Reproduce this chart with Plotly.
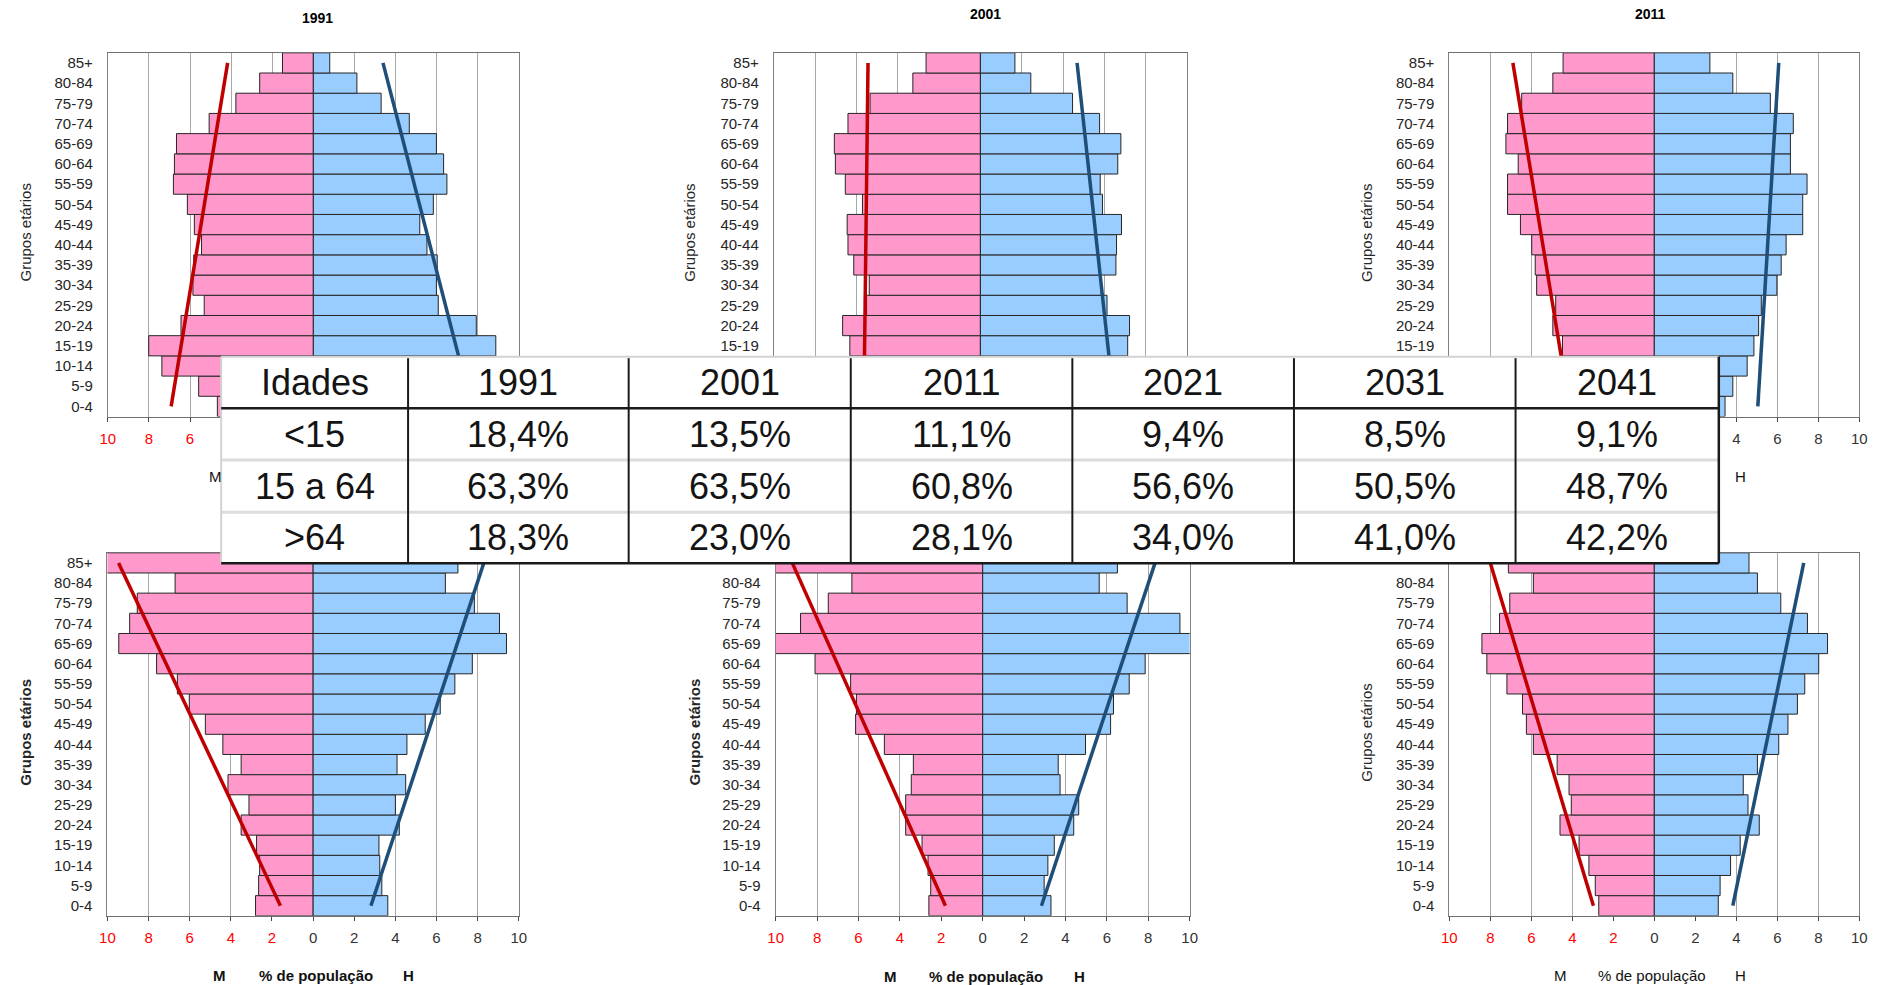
import plotly.graph_objects as go

PAGE_W, PAGE_H = 1879, 985
FONT = "Liberation Sans, Arial, sans-serif"


def fx(x):
    return x / PAGE_W


def fy(y):
    return 1 - y / PAGE_H


# ---------------- data ----------------
ages = ["0-4", "5-9", "10-14", "15-19", "20-24", "25-29", "30-34", "35-39", "40-44",
        "45-49", "50-54", "55-59", "60-64", "65-69", "70-74", "75-79", "80-84", "85+"]

pyramid_years = ["1991", "2001", "2011", "2021", "2031", "2041"]

# % of population, women (M) and men (H), ordered 0-4 ... 85+
women_1991 = [4.67, 5.58, 7.37, 8.01, 6.44, 5.31, 5.86, 5.82, 5.44, 5.79, 6.13, 6.81, 6.76, 6.66, 5.07, 3.77, 2.61, 1.50]
men_1991 = [5.2, 6.0, 7.6, 8.88, 7.93, 6.08, 5.99, 6.03, 5.53, 5.18, 5.84, 6.50, 6.34, 5.99, 4.67, 3.30, 2.12, 0.80]

women_2001 = [4.9, 5.0, 5.6, 6.32, 6.67, 5.51, 5.38, 6.13, 6.41, 6.45, 5.71, 6.54, 7.02, 7.07, 6.41, 5.34, 3.27, 2.63]
men_2001 = [5.2, 5.3, 6.0, 7.13, 7.22, 6.13, 5.85, 6.56, 6.59, 6.83, 5.91, 5.80, 6.65, 6.80, 5.77, 4.46, 2.44, 1.67]

women_2011 = [3.3, 3.6, 4.3, 4.48, 4.95, 4.81, 5.74, 5.81, 5.98, 6.53, 7.16, 7.16, 6.64, 7.24, 7.16, 6.47, 4.95, 4.45]
men_2011 = [3.45, 3.83, 4.53, 4.86, 5.09, 5.22, 5.98, 6.19, 6.43, 7.24, 7.24, 7.45, 6.64, 6.64, 6.78, 5.66, 3.83, 2.71]

women_2021 = [2.80, 2.65, 2.60, 2.75, 3.50, 3.12, 4.14, 3.50, 4.39, 5.24, 6.02, 6.60, 7.61, 9.45, 8.92, 8.55, 6.71, 10.2]
men_2021 = [3.63, 3.34, 3.24, 3.20, 4.19, 4.00, 4.50, 4.08, 4.56, 5.45, 6.18, 6.89, 7.74, 9.40, 9.06, 7.84, 6.43, 7.04]

women_2031 = [2.60, 2.51, 2.64, 2.93, 3.72, 3.72, 3.45, 3.35, 4.75, 6.14, 6.10, 6.38, 8.10, 10.4, 8.80, 7.46, 6.32, 10.1]
men_2031 = [3.30, 2.97, 3.15, 3.46, 4.40, 4.64, 3.74, 3.65, 4.97, 6.18, 6.32, 7.08, 7.85, 10.3, 9.53, 6.98, 5.63, 6.51]

women_2041 = [2.71, 2.88, 3.19, 3.67, 4.60, 4.05, 4.16, 4.74, 5.90, 6.24, 6.43, 7.19, 8.17, 8.41, 7.55, 7.05, 5.90, 7.12]
men_2041 = [3.12, 3.21, 3.72, 4.19, 5.12, 4.57, 4.34, 5.03, 6.07, 6.52, 6.98, 7.34, 8.02, 8.45, 7.47, 6.17, 5.03, 4.62]

# trend lines: value at "0-4" and at "85+"
trend_women_1991, trend_men_1991 = [6.92, 4.17], [7.7, 3.39]
trend_women_2001, trend_men_2001 = [5.64, 5.44], [6.49, 4.68]
trend_women_2011, trend_men_2011 = [4.14, 6.90], [5.05, 6.07]
trend_women_2021, trend_men_2021 = [1.59, 9.46], [2.81, 8.30]
trend_women_2031, trend_men_2031 = [1.80, 9.20], [2.84, 8.33]
trend_women_2041, trend_men_2041 = [2.97, 8.00], [3.83, 7.29]

x_tick_values = [-10, -8, -6, -4, -2, 0, 2, 4, 6, 8, 10]

table_years = ["1991", "2001", "2011", "2021", "2031", "2041"]
table_groups = ["<15", "15 a 64", ">64"]
share_under_15 = [18.4, 13.5, 11.1, 9.4, 8.5, 9.1]
share_15_64 = [63.3, 63.5, 60.8, 56.6, 50.5, 48.7]
share_over_64 = [18.3, 23.0, 28.1, 34.0, 41.0, 42.2]

women = [women_1991, women_2001, women_2011, women_2021, women_2031, women_2041]
men = [men_1991, men_2001, men_2011, men_2021, men_2031, men_2041]
trend_w = [trend_women_1991, trend_women_2001, trend_women_2011, trend_women_2021, trend_women_2031, trend_women_2041]
trend_m = [trend_men_1991, trend_men_2001, trend_men_2011, trend_men_2021, trend_men_2031, trend_men_2041]

# ---------------- layout geometry (page pixels) ----------------
boxes = [(100.7, 515.2, 52.8, 416.5), (772.4, 1189.1, 52.8, 416.5), (1453.7, 1867.2, 52.8, 416.5),
         (100.3, 515.2, 552.8, 915.8), (774.3, 1191.8, 552.8, 915.8), (1453.7, 1867.2, 552.8, 915.8)]
ytitle_x = [18, 688, 1370, 17.5, 692, 1370]
bold_titles = [False, False, False, True, True, False]
# tick labels that are not covered by the overlaid table
visible_x_ticks = [{-10, -8, -6}, set(), {4, 6, 8, 10}, set(x_tick_values), set(x_tick_values), set(x_tick_values)]
covered_age_labels = [set(), {"0-4", "5-9", "10-14"}, {"0-4", "5-9", "10-14"}, set(), {"85+"}, {"85+"}]

PINK = "#FF99CC"
BLUE = "#99CCFF"
RED_LINE = "#C00000"
BLUE_LINE = "#1F4E79"

fig = go.Figure()
layout = {}
annotations = []


def fmt_tick(v, visible):
    if v not in visible:
        return ""
    if v < 0:
        return '<span style="color:#FF0000">%d</span>' % abs(v)
    return "%d" % v


for i in range(6):
    n = "" if i == 0 else str(i + 1)
    xa, ya = "x" + n, "y" + n
    fig.add_trace(go.Bar(y=ages, x=[-v for v in women[i]], orientation="h", xaxis=xa, yaxis=ya,
                         marker=dict(color=PINK, line=dict(color="#262626", width=1)),
                         showlegend=False, hoverinfo="skip"))
    fig.add_trace(go.Bar(y=ages, x=men[i], orientation="h", xaxis=xa, yaxis=ya,
                         marker=dict(color=BLUE, line=dict(color="#262626", width=1)),
                         showlegend=False, hoverinfo="skip"))
    fig.add_trace(go.Scatter(y=[ages[0], ages[-1]], x=[-v for v in trend_w[i]], mode="lines",
                             xaxis=xa, yaxis=ya, line=dict(color=RED_LINE, width=3.5),
                             showlegend=False, hoverinfo="skip"))
    fig.add_trace(go.Scatter(y=[ages[0], ages[-1]], x=trend_m[i], mode="lines",
                             xaxis=xa, yaxis=ya, line=dict(color=BLUE_LINE, width=3.5),
                             showlegend=False, hoverinfo="skip"))
    x0, x1, y0, y1 = boxes[i]
    layout["xaxis" + n] = dict(
        domain=[fx(x0), fx(x1)], anchor=ya, range=[-10, 10], tickmode="array",
        tickvals=x_tick_values, ticktext=[fmt_tick(v, visible_x_ticks[i]) for v in x_tick_values],
        showgrid=True, gridcolor="#A8A8A8", gridwidth=1, zeroline=False,
        showline=True, linecolor="#707070", linewidth=1, mirror=True,
        ticks="outside", ticklen=4, tickcolor="#444444", ticklabelstandoff=4,
        tickfont=dict(family=FONT, size=15, color="#333333"), fixedrange=True)
    layout["yaxis" + n] = dict(
        domain=[fy(y1), fy(y0)], anchor=xa, type="category", categoryorder="array",
        categoryarray=ages, range=[-0.5, 17.5], showgrid=False, zeroline=False,
        tickmode="array", tickvals=ages,
        ticktext=["" if a in covered_age_labels[i] else a for a in ages],
        showline=True, linecolor="#808080", linewidth=1, mirror=True, ticks="",
        ticklabelstandoff=11, tickfont=dict(family=FONT, size=15, color="#262626"), fixedrange=True)
    ytxt = "Grupos etários"
    if bold_titles[i]:
        ytxt = "<b>" + ytxt + "</b>"
    annotations.append(dict(text=ytxt, textangle=-90, xref="paper", yref="paper",
                            x=fx(ytitle_x[i]), y=fy((y0 + y1) / 2 - 2), xanchor="center", yanchor="middle",
                            showarrow=False, font=dict(family=FONT, size=15, color="#262626")))

# chart titles (top row)
for i, (tx, ty) in enumerate([(312, 18), (986, 13.5), (1657, 14)]):
    annotations.append(dict(text="<b>%s</b>" % pyramid_years[i], xref="paper", yref="paper",
                            x=fx(tx), y=fy(ty), xanchor="center", yanchor="middle", showarrow=False,
                            font=dict(family=FONT, size=14, color="#000000")))

# x-axis titles (only the parts not covered by the table)
xtitles = [
    (0, [("M", -4.75)], 476, False),
    (2, [("H", 4.22)], 476, False),
    (3, [("M", -4.53), ("% de população", 0.13), ("H", 4.63)], 975, True),
    (4, [("M", -4.45), ("% de população", 0.18), ("H", 4.67)], 976, True),
    (5, [("M", -4.57), ("% de população", -0.13), ("H", 4.22)], 975, False),
]
for idx, parts, ty, bold in xtitles:
    n = "" if idx == 0 else str(idx + 1)
    for txt, xv in parts:
        annotations.append(dict(text=("<b>%s</b>" % txt) if bold else txt, xref="x" + n, yref="paper",
                                x=xv, y=fy(ty), xanchor="center", yanchor="middle", showarrow=False,
                                font=dict(family=FONT, size=15, color="#111111")))

# ---------------- table overlay ----------------
T_LEFT, T_RIGHT, T_TOP, T_BOTTOM = 215.0, 1725.5, 356.7, 563.3
col_edges = [215.0, 403.5, 626.0, 850.0, 1073.5, 1297.0, 1520.5, 1725.5]
row_edges = [356.7, 408.3, 460.0, 512.3, 563.3]

shapes = []


def line(xa_, ya_, xb, yb, color, width):
    shapes.append(dict(type="line", xref="paper", yref="paper", x0=fx(xa_), y0=fy(ya_), x1=fx(xb), y1=fy(yb),
                       line=dict(color=color, width=width), layer="above"))


shapes.append(dict(type="rect", xref="paper", yref="paper", x0=fx(T_LEFT), y0=fy(T_BOTTOM), x1=fx(T_RIGHT),
                   y1=fy(T_TOP), fillcolor="#FFFFFF", line=dict(width=0), layer="above"))
for ry in row_edges[2:4]:
    line(T_LEFT, ry, T_RIGHT, ry, "#DCDCDC", 3)
line(T_LEFT, T_TOP, T_RIGHT, T_TOP, "#D2D2D2", 2)
line(T_LEFT, T_TOP, T_LEFT, T_BOTTOM, "#D2D2D2", 2)
line(T_LEFT, row_edges[1], T_RIGHT, row_edges[1], "#1A1A1A", 2.5)
for cx in col_edges[1:-1]:
    line(cx, T_TOP + 1.5, cx, T_BOTTOM, "#1A1A1A", 2)
line(T_RIGHT, T_TOP, T_RIGHT, T_BOTTOM, "#1A1A1A", 2.5)
line(T_LEFT, T_BOTTOM, T_RIGHT, T_BOTTOM, "#1A1A1A", 2.5)


def pct(v):
    return ("%.1f" % v).replace(".", ",") + "%"


header = ["Idades"] + table_years
rows = [header,
        [table_groups[0]] + [pct(v) for v in share_under_15],
        [table_groups[1]] + [pct(v) for v in share_15_64],
        [table_groups[2]] + [pct(v) for v in share_over_64]]
for r, row in enumerate(rows):
    cy = (row_edges[r] + row_edges[r + 1]) / 2
    for c, txt in enumerate(row):
        cxm = (col_edges[c] + col_edges[c + 1]) / 2
        annotations.append(dict(text=txt, xref="paper", yref="paper", x=fx(cxm), y=fy(cy),
                                xanchor="center", yanchor="middle", showarrow=False,
                                font=dict(family=FONT, size=36, color="#141414")))

fig.update_layout(
    width=PAGE_W, height=PAGE_H, autosize=False,
    margin=dict(l=0, r=0, t=0, b=0, pad=0),
    paper_bgcolor="#FFFFFF", plot_bgcolor="#FFFFFF",
    barmode="relative", bargap=0, showlegend=False,
    shapes=shapes, annotations=annotations,
    **layout,
)

fig.write_html("out.html", config={"displayModeBar": False, "staticPlot": True},
               post_script="document.body.style.margin='0';document.body.style.overflow='hidden';")
